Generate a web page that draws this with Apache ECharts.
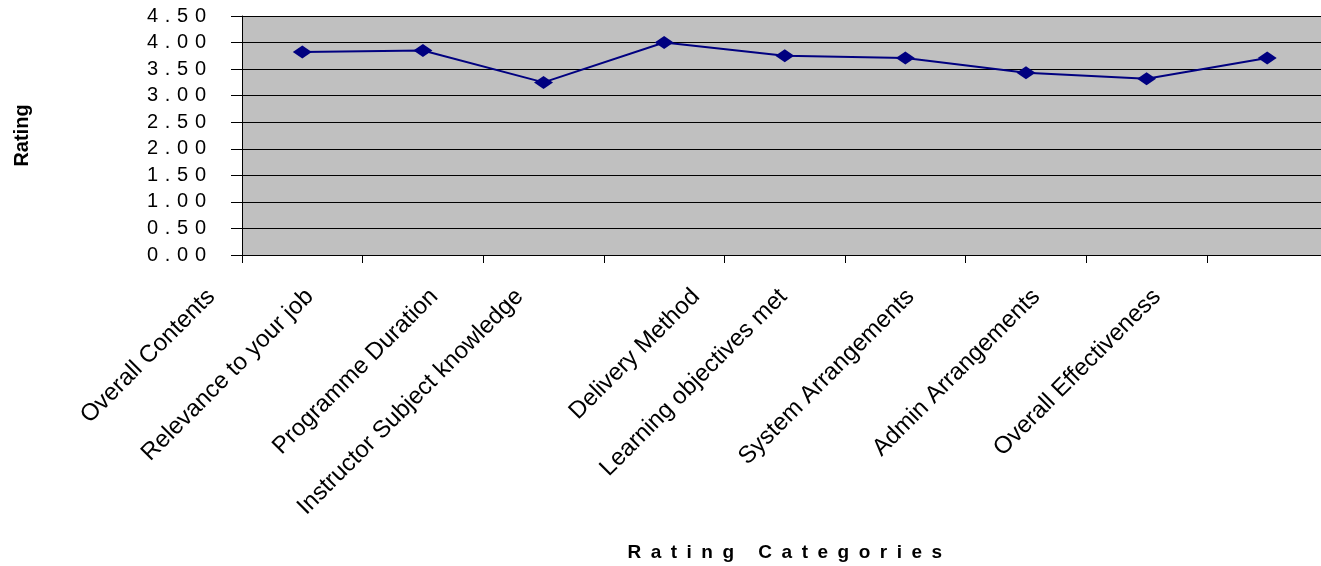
<!DOCTYPE html>
<html>
<head>
<meta charset="utf-8">
<script src="https://cdn.jsdelivr.net/npm/echarts@6/dist/echarts.min.js"></script>
<style>
  html, body { margin: 0; padding: 0; background: #ffffff; }
  #chart { width: 1321px; height: 566px; }
</style>
</head>
<body>
<div id="chart"></div>
<script>
// Rating categories (x axis) and the average rating for each
const categories = [
  'Overall Contents',
  'Relevance to your job',
  'Programme Duration',
  'Instructor Subject knowledge',
  'Delivery Method',
  'Learning objectives met',
  'System Arrangements',
  'Admin Arrangements',
  'Overall Effectiveness'
];
const ratings = [3.82, 3.85, 3.25, 4.00, 3.75, 3.71, 3.43, 3.32, 3.71];

// Value axis range
const yMin = 0;
const yMax = 4.5;
const yStep = 0.5;

const xTitle = 'Rating Categories';
const yTitle = 'Rating';

const FONT = '"Liberation Sans", Arial, Helvetica, sans-serif';
const LABEL_SIZE = 24;

// Letter-spaced text, as the axis numbers and title are drawn
const spaceOut = (s, gap) => s.split('').join(gap);
const spacedTitle = xTitle.split(' ').map(w => spaceOut(w, '\u2002')).join('\u2002 \u2002');

// The slanted category labels sit left of their tick by a bit under half
// their own length. Padding on the rotated text (right end, bottom edge)
// moves each one straight left by that amount.
const ctx = document.createElement('canvas').getContext('2d');
ctx.font = LABEL_SIZE + 'px "Liberation Sans"';
const xData = categories.map(name => {
  const shift = 0.7 * LABEL_SIZE + 0.415 * ctx.measureText(name).width;
  const along = shift * Math.SQRT1_2;
  return {
    value: name,
    textStyle: {
      verticalAlign: 'bottom',
      padding: [0, along, Math.max(0, along - LABEL_SIZE / 2), 0]
    }
  };
});

const chart = echarts.init(document.getElementById('chart'), null, { renderer: 'canvas' });

chart.setOption({
  animation: false,
  backgroundColor: '#ffffff',
  grid: {
    left: 242,
    top: 16,
    width: 1085.5,
    height: 239,
    show: true,
    backgroundColor: '#C0C0C0',
    borderWidth: 0,
    containLabel: false,
    outerBoundsMode: 'none'
  },
  xAxis: {
    type: 'category',
    data: xData,
    boundaryGap: true,
    name: spacedTitle,
    nameLocation: 'middle',
    nameGap: 288,
    nameMoveOverlap: false,
    nameTextStyle: {
      fontFamily: FONT, fontSize: 19, fontWeight: 'bold', color: '#000000',
      verticalAlign: 'top'
    },
    axisLine: { show: true, onZero: false, lineStyle: { color: '#000000', width: 1 } },
    axisTick: { show: true, interval: 0, length: 8, lineStyle: { color: '#000000', width: 1 } },
    axisLabel: {
      interval: 0,
      rotate: 45,
      margin: 38,
      fontFamily: FONT,
      fontSize: LABEL_SIZE,
      color: '#000000'
    },
    splitLine: { show: false }
  },
  yAxis: {
    type: 'value',
    min: yMin,
    max: yMax,
    interval: yStep,
    name: yTitle,
    nameLocation: 'middle',
    nameGap: 210,
    nameRotate: 90,
    nameTextStyle: { fontFamily: FONT, fontSize: 20, fontWeight: 'bold', color: '#000000' },
    axisLine: { show: true, lineStyle: { color: '#000000', width: 1 } },
    axisTick: { show: true, length: 11, lineStyle: { color: '#000000', width: 1 } },
    axisLabel: {
      margin: 36,
      fontFamily: FONT,
      fontSize: 20,
      color: '#000000',
      formatter: v => spaceOut(v.toFixed(2), '\u2004')
    },
    splitLine: { show: true, lineStyle: { color: '#000000', width: 1 } }
  },
  series: [{
    type: 'line',
    data: ratings,
    symbol: 'diamond',
    symbolSize: [19, 13],
    showSymbol: true,
    lineStyle: { color: '#000080', width: 2 },
    itemStyle: { color: '#000080', borderWidth: 0 },
    emphasis: { disabled: true }
  }]
});
</script>
</body>
</html>
